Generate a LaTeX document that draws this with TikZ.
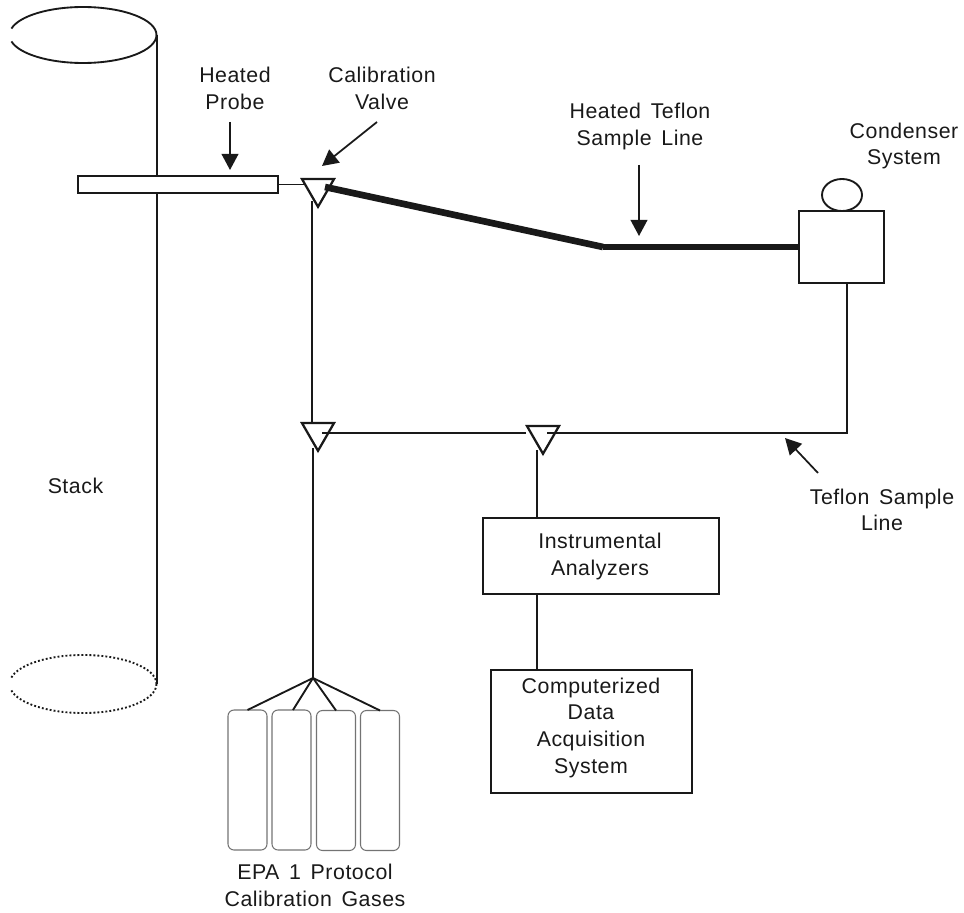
\documentclass[tikz,border=0pt]{standalone}
\usepackage{fontspec}
\setmainfont[LetterSpace=2.5,WordSpace=1.5]{Liberation Sans}
\usetikzlibrary{arrows.meta,shapes.geometric}
\def\px{0.75pt}
\tikzset{
  ln/.style={line width=1.4pt,black!90},
  thickline/.style={line width=4.4pt,black!90},
  thickerline/.style={line width=5pt,black!90},
  callout/.style={line width=1.3pt,black!90,-{Triangle[width=12.5pt,length=12pt]}},
  box/.style={draw=black!90,line width=1.4pt,fill=white,rectangle,inner sep=0pt,outer sep=0pt},
  valve/.style={draw=black!90,line width=1.7pt,fill=white,regular polygon,regular polygon sides=3,shape border rotate=180,minimum size=37*\px,inner sep=0pt,outer sep=0pt},
  tank/.style={draw=black!55,line width=0.8pt,rectangle,rounded corners=4.5pt,inner sep=0pt,outer sep=0pt,minimum width=39*\px,minimum height=140*\px},
  lab/.style={align=center,inner sep=0pt,font=\fontsize{16}{20}\selectfont,text=black!90},
}
\begin{document}
\begin{tikzpicture}[x=0.75pt,y=-0.75pt]
\useasboundingbox (0,0) rectangle (964,913);
% stack
\coordinate (stackTop) at (156.5,35);
\coordinate (stackBot) at (156.5,684);
\draw[ln] (stackTop) arc[start angle=0,end angle=166.7,x radius=73.5,y radius=-28];
\draw[ln] (stackTop) arc[start angle=0,end angle=-166.7,x radius=73.5,y radius=-28];
\draw[ln] ([xshift=0.3*\px]stackTop) -- ([xshift=0.3*\px]stackBot);
\draw[line width=1.4pt,black!90,dash pattern=on 1.4pt off 1.6pt] (stackBot) arc[start angle=0,end angle=168,x radius=73.5,y radius=-29];
\draw[line width=1.4pt,black!90,dash pattern=on 1.4pt off 1.6pt] (stackBot) arc[start angle=0,end angle=-168,x radius=73.5,y radius=-29];
% shapes
\node[box,minimum width=200*\px,minimum height=17*\px] (probe) at (178,184.5) {};
\node[box,minimum width=85*\px,minimum height=72*\px] (cond) at (841.5,247) {};
\node[draw=black!90,line width=1.4pt,ellipse,fill=white,minimum width=40*\px,minimum height=32*\px,inner sep=0pt,outer sep=0pt] (bulb) at (842,195) {};
\node[box,minimum width=236*\px,minimum height=76*\px] (ana) at (601,556) {};
\node[box,minimum width=201*\px,minimum height=123*\px] (das) at (591.5,731.5) {};
\node[tank] (t1) at (247.5,780) {};
\node[tank] (t2) at (291.5,780) {};
\node[tank] (t3) at (336,780.5) {};
\node[tank] (t4) at (380,780.5) {};
\coordinate (apex) at (313,678);
\coordinate (corner) at (847,433);
\coordinate (bend) at (603,247);
\node[valve] (v1) at (318,188.3) {};
\node[valve] (v2) at (318,432.3) {};
\node[valve] (v3) at (543,435.3) {};
\coordinate (v1in) at (325,187);
\coordinate (v1out) at (312,201);
\coordinate (v2top) at (312,423);
\coordinate (v2in) at (322,433);
\coordinate (v2out) at (313,448);
\coordinate (v3left) at (526,433);
\coordinate (v3in) at (547,433);
\coordinate (v3out) at (537,450);
\coordinate (anaTop) at (537,518);
\coordinate (anaBot) at (537,594);
\coordinate (dasTop) at (537,670);
% lines
\draw[ln] (probe.east) -- (304,184.5);
\draw[thickerline] (v1in) -- (bend);
\draw[thickline] (bend) -- (cond.west |- bend);
\draw[ln] (v1out) -- (v2top);
\draw[ln] (v2in) -- (v3left);
\draw[ln] (v3in) -- (corner) -- (corner |- cond.south);
\draw[ln] (v2out) -- (apex);
\draw[ln] (v3out) -- (anaTop);
\draw[ln] (anaBot) -- (dasTop);
\draw[ln] (apex) -- (t1.north);
\draw[ln] (apex) -- ([xshift=1.5*\px]t2.north);
\draw[ln] (apex) -- (t3.north);
\draw[ln] (apex) -- (t4.north);
% callouts
\coordinate (a1s) at (230,122); \coordinate (a1e) at (230,170);
\coordinate (a2s) at (377,122); \coordinate (a2e) at (322,166);
\coordinate (a3s) at (639,165); \coordinate (a3e) at (639,236);
\coordinate (a4s) at (818,473); \coordinate (a4e) at (785,438);
\draw[callout] (a1s) -- (a1e);
\draw[callout] (a2s) -- (a2e);
\draw[callout] (a3s) -- (a3e);
\draw[callout] (a4s) -- (a4e);
% labels
\node[lab] (lprobe) at (235,88.5) {Heated\\Probe};
\node[lab] (lvalve) at (382,88.5) {Calibration\\Valve};
\node[lab] (lline) at (640,126.5) {Heated Teflon\\Sample Line};
\node[lab] (lcond) at (904,146) {Condenser\\System};
\node[lab] (lstack) at (75.5,486) {Stack};
\node[lab] (ltef) at (882,510) {Teflon Sample\\Line};
\node[lab] (lana) at (600,556.5) {Instrumental\\Analyzers};
\node[lab] (ldas) at (591,727.5) {Computerized\\Data\\Acquisition\\System};
\node[lab] (lgas) at (315,885.5) {EPA 1 Protocol\\Calibration Gases};
\end{tikzpicture}
\end{document}
